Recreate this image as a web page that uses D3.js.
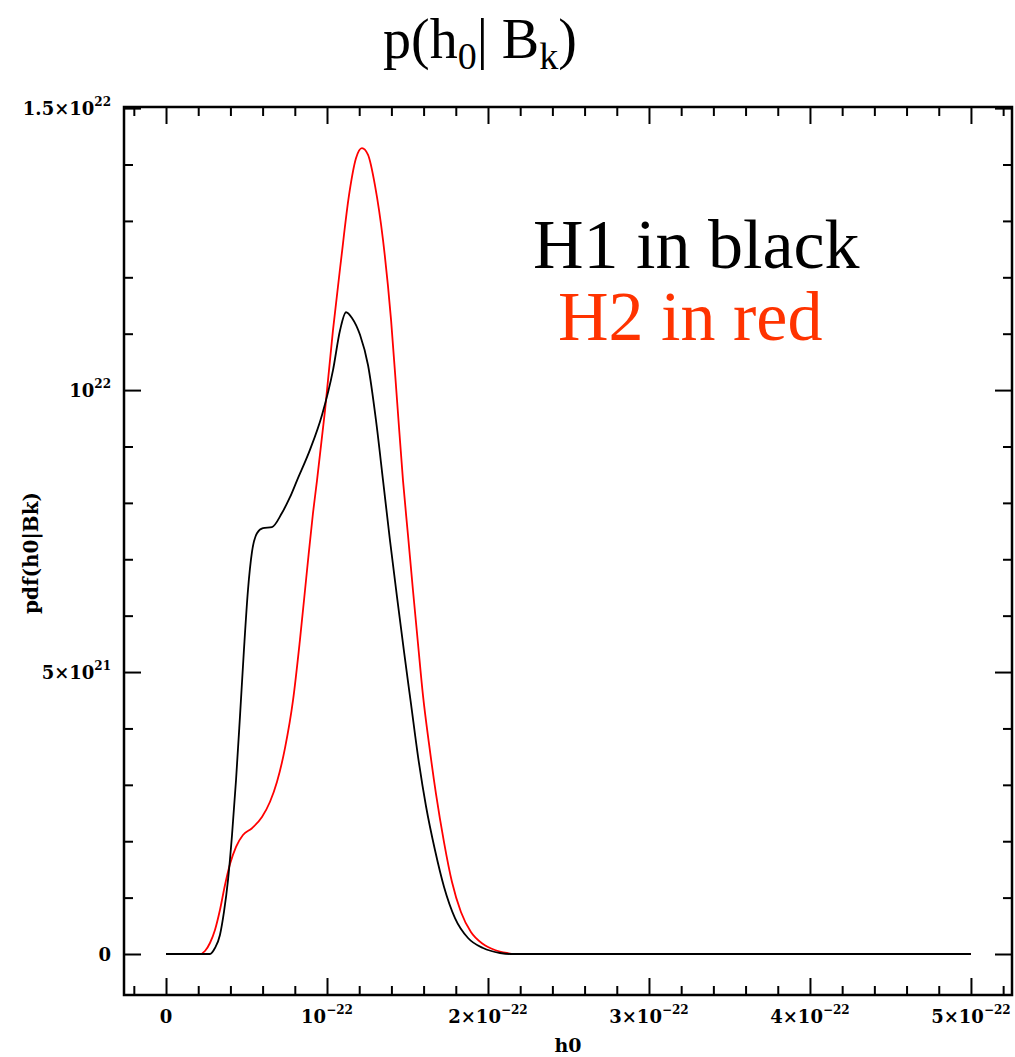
<!DOCTYPE html>
<html>
<head>
<meta charset="utf-8">
<script src="https://cdn.jsdelivr.net/npm/d3@7"></script>
<style>
  body { margin: 0; background: #fff; }
  svg text { font-family: "DejaVu Serif", serif; }
</style>
</head>
<body>
<div id="graphic"></div>
<script>
// h0 in units of 1e-22, pdf in units of 1e21
var h1X = [0, 0.273, 0.304, 0.335, 0.360, 0.385, 0.410, 0.435, 0.460, 0.484, 0.509, 0.534, 0.565, 0.602, 0.658, 0.720, 0.770, 0.814, 0.894, 0.969, 1.037, 1.081, 1.118, 1.155, 1.205, 1.255, 1.304, 1.348, 1.391, 1.435, 1.478, 1.522, 1.565, 1.615, 1.671, 1.727, 1.795, 1.876, 1.969, 2.075, 2.14, 5];
var h1Y = [0, 0, 0.106, 0.337, 0.745, 1.31, 2.11, 3.09, 4.24, 5.39, 6.45, 7.13, 7.46, 7.55, 7.57, 7.82, 8.10, 8.40, 8.94, 9.56, 10.35, 11.06, 11.38, 11.28, 10.98, 10.44, 9.47, 8.40, 7.34, 6.33, 5.37, 4.43, 3.51, 2.62, 1.84, 1.19, 0.638, 0.284, 0.106, 0.018, 0, 0];
var h2X = [0, 0.211, 0.242, 0.273, 0.304, 0.335, 0.366, 0.398, 0.435, 0.478, 0.534, 0.596, 0.646, 0.689, 0.739, 0.789, 0.832, 0.876, 0.913, 0.938, 0.988, 1.037, 1.087, 1.137, 1.180, 1.217, 1.255, 1.298, 1.348, 1.398, 1.435, 1.472, 1.503, 1.534, 1.565, 1.596, 1.634, 1.677, 1.727, 1.776, 1.832, 1.894, 1.969, 2.043, 2.118, 2.16, 5];
var h2Y = [0, 0, 0.053, 0.195, 0.426, 0.780, 1.22, 1.60, 1.90, 2.11, 2.23, 2.43, 2.70, 3.05, 3.65, 4.50, 5.57, 6.81, 7.82, 8.40, 9.65, 11.06, 12.30, 13.46, 14.11, 14.29, 14.17, 13.63, 12.66, 11.24, 9.82, 8.40, 7.43, 6.45, 5.51, 4.59, 3.72, 2.84, 1.98, 1.28, 0.745, 0.390, 0.177, 0.071, 0.018, 0, 0];

var xMajor = [0, 1, 2, 3, 4, 5];
var xLabels = [["0", ""], ["10", "\u221222"], ["2\u00d710", "\u221222"], ["3\u00d710", "\u221222"], ["4\u00d710", "\u221222"], ["5\u00d710", "\u221222"]];
var yMajor = [0, 5, 10, 15];
var yLabels = [["0", ""], ["5\u00d710", "21"], ["10", "22"], ["1.5\u00d710", "22"]];

var graphic = new Object;

graphic.create = function() {
  var svg, x, y, left, right, top, bottom, xMinor, yMinor, line, title, t, serif;
  left = 124; right = 1012; top = 107; bottom = 995;
  serif = "'Liberation Serif', 'Times New Roman', serif";
  svg = d3.select("#graphic").append("svg").attr("width", 1015).attr("height", 1057);

  x = d3.scaleLinear().domain([-0.261, 5.255]).range([left, right]);
  y = d3.scaleLinear().domain([-0.727, 15.02]).range([bottom, top]);

  xMinor = d3.range(-1, 27).map(function(d) { return d / 5; }).filter(function(d) { return xMajor.indexOf(d) < 0 && x(d) > left + 2 && x(d) < right - 2; });
  yMinor = d3.range(0, 16).filter(function(d) { return yMajor.indexOf(d) < 0; });

  var addAxis = function(axis, tr, vals, size) {
    var g = svg.append("g").attr("transform", tr)
      .call(axis.tickValues(vals).tickSize(size).tickFormat(""));
    g.select(".domain").remove();
    g.selectAll(".tick line").attr("stroke", "#000").attr("stroke-width", 2);
  };
  addAxis(d3.axisBottom(x), "translate(0," + bottom + ")", xMajor, -17);
  addAxis(d3.axisBottom(x), "translate(0," + bottom + ")", xMinor, -9);
  addAxis(d3.axisTop(x), "translate(0," + top + ")", xMajor, -17);
  addAxis(d3.axisTop(x), "translate(0," + top + ")", xMinor, -9);
  addAxis(d3.axisLeft(y), "translate(" + left + ",0)", yMajor, -17);
  addAxis(d3.axisLeft(y), "translate(" + left + ",0)", yMinor, -9);
  addAxis(d3.axisRight(y), "translate(" + right + ",0)", yMajor, -17);
  addAxis(d3.axisRight(y), "translate(" + right + ",0)", yMinor, -9);

  svg.append("rect").attr("x", left).attr("y", top).attr("width", right - left).attr("height", bottom - top)
    .attr("fill", "none").attr("stroke", "#000").attr("stroke-width", 2.5);

  // tick labels
  xMajor.forEach(function(d, i) {
    t = svg.append("text").attr("x", x(d)).attr("y", 1023).attr("text-anchor", "middle")
      .attr("font-size", 18).attr("font-weight", "bold");
    t.append("tspan").text(xLabels[i][0]);
    if (xLabels[i][1]) t.append("tspan").attr("dy", -9).attr("font-size", 12).text(xLabels[i][1]);
  });
  yMajor.forEach(function(d, i) {
    t = svg.append("text").attr("x", 111).attr("y", y(d) + 7).attr("text-anchor", "end")
      .attr("font-size", 18).attr("font-weight", "bold");
    t.append("tspan").text(yLabels[i][0]);
    if (yLabels[i][1]) t.append("tspan").attr("dy", -9).attr("font-size", 12).text(yLabels[i][1]);
  });

  svg.append("text").attr("x", (left + right) / 2).attr("y", 1052).attr("text-anchor", "middle")
    .attr("font-size", 19).attr("font-weight", "bold").text("h0");
  svg.append("text").attr("transform", "translate(38," + ((top + bottom) / 2 + 2) + ") rotate(-90)")
    .attr("text-anchor", "middle").attr("font-size", 20).attr("font-weight", "bold").text("pdf(h0|Bk)");

  line = d3.line().x(function(d) { return x(d[0]); }).y(function(d) { return y(d[1]); }).curve(d3.curveMonotoneX);
  svg.append("path").datum(d3.zip(h2X, h2Y)).attr("d", line)
    .attr("fill", "none").attr("stroke", "#ff0000").attr("stroke-width", 1.8);
  svg.append("path").datum(d3.zip(h1X, h1Y)).attr("d", line)
    .attr("fill", "none").attr("stroke", "#000").attr("stroke-width", 1.8);

  // title
  title = svg.append("text").attr("x", 383).attr("y", 58)
    .style("font-family", serif).attr("font-size", 56);
  title.append("tspan").text("p(h");
  title.append("tspan").attr("dy", 11).attr("font-size", 38).text("0");
  title.append("tspan").attr("dy", -11).text("| B");
  title.append("tspan").attr("dy", 11).attr("font-size", 38).text("k");
  title.append("tspan").attr("dy", -11).text(")");

  svg.append("text").attr("x", 533).attr("y", 268)
    .style("font-family", serif).attr("font-size", 70)
    .attr("fill", "#000").text("H1 in black");
  svg.append("text").attr("x", 558).attr("y", 340)
    .style("font-family", serif).attr("font-size", 70)
    .attr("fill", "#ff3300").text("H2 in red");
};

graphic.create();
</script>
</body>
</html>
